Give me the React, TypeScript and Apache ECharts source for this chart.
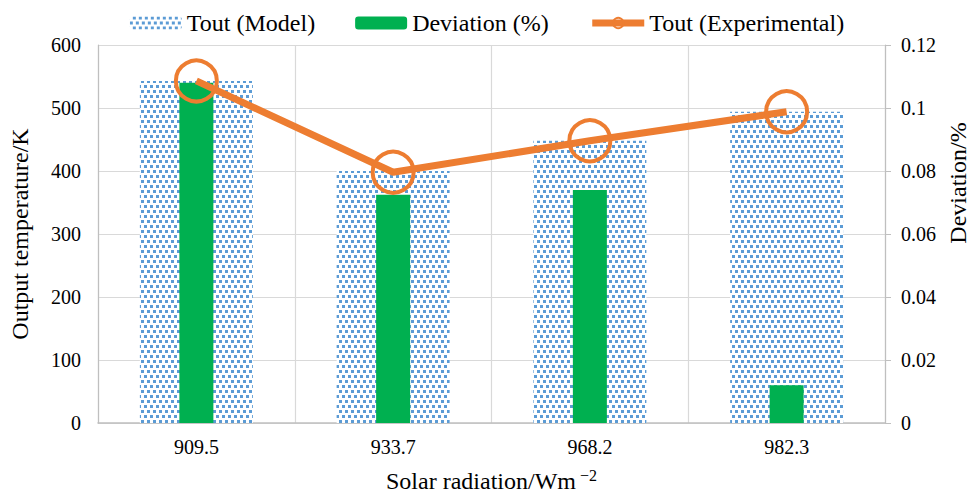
import React, { useEffect, useRef } from "react";
import * as echarts from "echarts";

const categories = ["909.5", "933.7", "968.2", "982.3"];
const toutModel = [543, 400, 448, 494];
const deviation = [0.108, 0.0725, 0.074, 0.012];
const toutExperimental = [543, 398, 448, 494];
const leftTicks = { min: 0, max: 600, interval: 100 };
const rightTicks = { min: 0, max: 0.12, interval: 0.02 };

const FONT = "'Liberation Serif', 'Times New Roman', Times, serif";

export default function App() {
  const ref = useRef<HTMLDivElement>(null);
  useEffect(() => {
    document.body.style.margin = "0";
    document.body.style.overflow = "hidden";
    document.documentElement.style.overflow = "hidden";
    if (!ref.current) return;
    const chart = echarts.init(ref.current, undefined, { renderer: "svg" });
    chart.setOption({
      animation: false,
      backgroundColor: "#ffffff",
      textStyle: { fontFamily: FONT, color: "#000" },
      legend: {
        top: 6,
        left: "center",
        itemWidth: 52,
        itemHeight: 13,
        itemGap: 40,
        textStyle: { fontFamily: FONT, fontSize: 24, color: "#000" },
        data: [
          { name: "Tout (Model)" },
          { name: "Deviation (%)" },
          { name: "Tout (Experimental)", lineStyle: { width: 7 } },
        ],
      },
      grid: { left: 96, right: 89, top: 45, height: 384 },
      xAxis: [
        {
          type: "category",
          data: categories,
          name: "Solar radiation/Wm{sup|−2}",
          nameLocation: "middle",
          nameGap: 44,
          nameTextStyle: {
            fontFamily: FONT,
            fontSize: 24,
            color: "#000",
            rich: { sup: { fontFamily: FONT, fontSize: 16, color: "#000", verticalAlign: "top", padding: [0, 0, 12, 4] } },
          },
          axisLine: { show: true, lineStyle: { color: "#bfbfbf", width: 1.5 } },
          axisTick: { show: false },
          splitLine: { show: true, lineStyle: { color: "#d9d9d9", width: 1.2 } },
          axisLabel: { fontFamily: FONT, fontSize: 20, color: "#000", margin: 14 },
        },
        {
          type: "category",
          data: categories,
          show: false,
          gridIndex: 0,
        },
      ],
      yAxis: [
        {
          type: "value",
          ...leftTicks,
          name: "Output temperature/K",
          nameLocation: "middle",
          nameGap: 66,
          nameTextStyle: { fontFamily: FONT, fontSize: 24, color: "#000" },
          axisLine: { show: true, lineStyle: { color: "#bfbfbf", width: 1.2 } },
          axisTick: { show: false },
          splitLine: { show: true, lineStyle: { color: "#d9d9d9", width: 1.2 } },
          axisLabel: { fontFamily: FONT, fontSize: 20, color: "#000", margin: 17 },
        },
        {
          type: "value",
          ...rightTicks,
          position: "right",
          axisLine: { show: true, lineStyle: { color: "#bfbfbf", width: 1.2 } },
          axisTick: { show: true, length: 6, lineStyle: { color: "#bfbfbf" } },
          splitLine: { show: false },
          axisLabel: { fontFamily: FONT, fontSize: 20, color: "#000", margin: 16 },
        },
      ],
      graphic: [
        {
          type: "text",
          x: 958,
          y: 183,
          rotation: Math.PI / 2,
          style: {
            text: "Deviation/%",
            fontFamily: FONT,
            fontSize: 24,
            fill: "#000",
            align: "center",
            verticalAlign: "middle",
          },
        },
      ],
      series: [
        {
          name: "Tout (Model)",
          type: "bar",
          xAxisIndex: 0,
          yAxisIndex: 0,
          data: toutModel,
          barWidth: 113,
          itemStyle: {
            color: "#ffffff",
            decal: {
              symbol: "rect",
              symbolSize: 1,
              color: "#5b9bd5",
              dashArrayX: [
                [3, 3],
                [0, 3, 3, 0],
              ],
              dashArrayY: [3, 2],
              rotation: 0,
            },
          },
          z: 1,
        },
        {
          name: "Deviation (%)",
          type: "bar",
          xAxisIndex: 1,
          yAxisIndex: 1,
          data: deviation,
          barWidth: 34,
          itemStyle: { color: "#00b050" },
          z: 2,
        },
        {
          name: "Tout (Experimental)",
          type: "line",
          xAxisIndex: 0,
          yAxisIndex: 0,
          data: toutExperimental,
          symbol: "circle",
          symbolSize: 41,
          showSymbol: true,
          lineStyle: { color: "#ed7d31", width: 7 },
          itemStyle: { color: "rgba(255,255,255,0)", borderColor: "#ed7d31", borderWidth: 4 },
          z: 3,
        },
      ],
    });
    return () => chart.dispose();
  }, []);
  return <div ref={ref} style={{ width: 974, height: 498 }} />;
}
